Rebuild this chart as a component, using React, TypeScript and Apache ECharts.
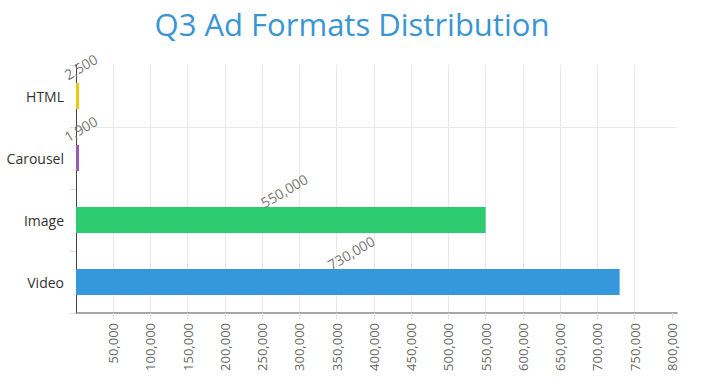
import React, { useEffect, useRef } from "react";
import * as echarts from "echarts";

const categories = ["Video", "Image", "Carousel", "HTML"];
const values = [730000, 550000, 1900, 2500];
const barColors = ["#3498db", "#2ecc71", "#9b59b6", "#f1c40f"];
const axisMax = 807000;
const tickStep = 50000;

export default function App() {
  const ref = useRef<HTMLDivElement>(null);
  useEffect(() => {
    if (!ref.current) return;
    const chart = echarts.init(ref.current, undefined, { renderer: "svg" });
    const tickCount = Math.floor(axisMax / tickStep) + 2; // ticks + max end
    const xGridColors: string[] = [];
    for (let i = 0; i < tickCount; i++) {
      xGridColors.push(i >= tickCount - 2 ? "rgba(0,0,0,0)" : "#e8e8e8");
    }
    const yGridColors = ["rgba(0,0,0,0)", "rgba(0,0,0,0)", "rgba(0,0,0,0)", "#e8e8e8", "rgba(0,0,0,0)"];
    chart.setOption({
      animation: false,
      textStyle: { fontFamily: "Open Sans" },
      title: {
        text: "Q3 Ad Formats Distribution",
        left: "center",
        top: 3,
        textStyle: { color: "#3a95d4", fontSize: 31, fontWeight: "normal", fontFamily: "Open Sans" },
      },
      grid: { left: 76, right: 27, top: 65, bottom: 78, containLabel: false },
      xAxis: {
        type: "value",
        min: 0,
        max: axisMax,
        interval: tickStep,
        axisLine: { show: true, lineStyle: { color: "#888", width: 1.5 } },
        axisTick: { show: true, length: 6, lineStyle: { color: "#e0e0e0" } },
        axisLabel: {
          rotate: 90,
          showMinLabel: false,
          showMaxLabel: false,
          color: "#666",
          fontSize: 13,
          margin: 10,
          formatter: (v: number) => v.toLocaleString("en-US"),
        },
        splitLine: { show: true, lineStyle: { color: xGridColors } },
      },
      yAxis: {
        type: "category",
        data: categories,
        axisLine: { show: true, lineStyle: { color: "#444" } },
        axisTick: { show: true, length: 6, lineStyle: { color: "#e0e0e0" } },
        axisLabel: { color: "#333", fontSize: 14, margin: 12 },
        splitLine: { show: true, lineStyle: { color: yGridColors } },
      },
      series: [
        {
          type: "bar",
          barWidth: 26,
          barMinHeight: 3,
          data: values.map((v, i) => ({ value: v, itemStyle: { color: barColors[i] } })),
          label: {
            show: true,
            position: "top",
            rotate: 30,
            distance: 4,
            offset: [9, -2],
            color: "#777",
            fontSize: 14,
            formatter: (p: any) => Number(p.value).toLocaleString("en-US"),
          },
        },
      ],
    });
    return () => chart.dispose();
  }, []);
  return <div ref={ref} style={{ width: 704, height: 391, position: "absolute", left: 0, top: 0 }} />;
}
